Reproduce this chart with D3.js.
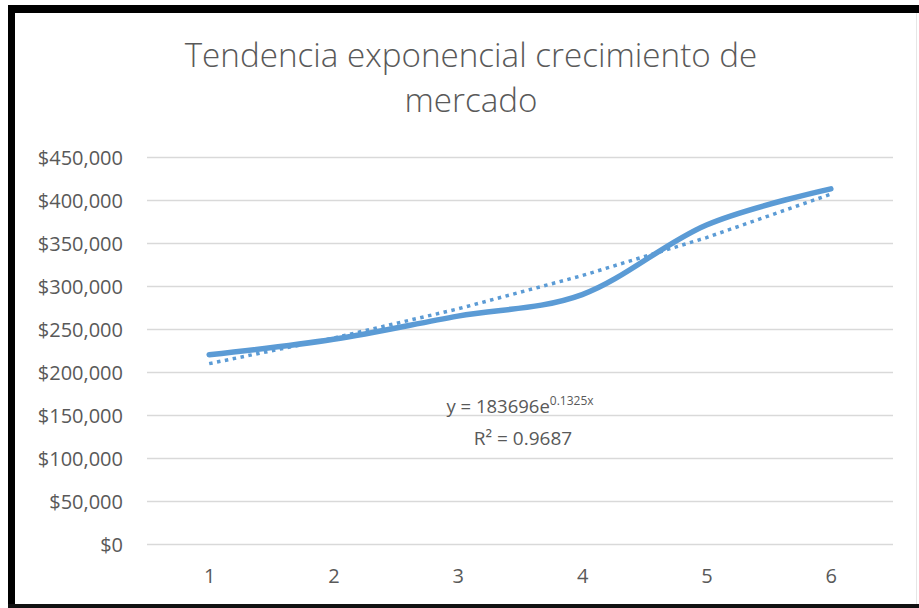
<!DOCTYPE html>
<html>
<head>
<meta charset="utf-8">
<script src="https://cdn.jsdelivr.net/npm/d3@7"></script>
<style>
  html, body { margin: 0; padding: 0; background: #fff; }
  svg { display: block; }
  text { font-family: "Open Sans", "Noto Sans", sans-serif; fill: #595959; }
</style>
</head>
<body>
<svg id="chart" width="919" height="608"></svg>
<script>
// ---- data ----
const categories = [1, 2, 3, 4, 5, 6];
const values = [220000, 238000, 265000, 290000, 371000, 413000];
const yTicks = [0, 50000, 100000, 150000, 200000, 250000, 300000, 350000, 400000, 450000];
const titleLines = ["Tendencia exponencial crecimiento de", "mercado"];
const trendA = 183696;
const trendB = 0.1325;
const trendR2 = "0.9687";

// ---- layout ----
const svg = d3.select("#chart");
const W = 919, H = 608;
const plot = { left: 147, right: 893, top: 157, bottom: 544 };

// frame
svg.append("rect").attr("x", 0).attr("y", 0).attr("width", W).attr("height", H).attr("fill", "#fff");
svg.append("rect").attr("x", 8).attr("y", 5).attr("width", 911).attr("height", 8).attr("fill", "#000");
svg.append("rect").attr("x", 8).attr("y", 5).attr("width", 7).attr("height", 603).attr("fill", "#000");
svg.append("rect").attr("x", 8).attr("y", 604).attr("width", 911).attr("height", 4).attr("fill", "#111");
svg.append("line").attr("x1", 916.5).attr("x2", 916.5).attr("y1", 13).attr("y2", 604)
  .attr("stroke", "#e6e6e6").attr("stroke-width", 1);

const x = d3.scalePoint().domain(categories).range([plot.left, plot.right]).padding(0.5);
const y = d3.scaleLinear().domain([0, 450000]).range([plot.bottom, plot.top]);

// gridlines
svg.append("g").selectAll("line").data(yTicks).join("line")
  .attr("x1", plot.left).attr("x2", plot.right)
  .attr("y1", d => Math.round(y(d)) + 0.5).attr("y2", d => Math.round(y(d)) + 0.5)
  .attr("stroke", "#d9d9d9").attr("stroke-width", 1.5);

// y axis labels
const fmt = d => "$" + d3.format(",")(d);
const yAxis = d3.axisLeft(y).tickValues(yTicks).tickFormat(fmt).tickSize(0).tickPadding(0);
const yg = svg.append("g").attr("transform", `translate(123,0)`).call(yAxis);
yg.select(".domain").remove();
yg.selectAll("text").style("font-size", "20px").attr("fill", "#595959").attr("dy", "0.35em");

// x axis labels
const xAxis = d3.axisBottom(x).tickSize(0).tickPadding(0);
const xg = svg.append("g").attr("transform", `translate(0,576)`).call(xAxis);
xg.select(".domain").remove();
xg.selectAll("text").style("font-size", "20px").attr("fill", "#595959").attr("dy", "0.35em");

// trendline (from displayed fit equation)
const trendData = categories.map(c => ({ c, v: trendA * Math.exp(trendB * c) }));
svg.append("path").datum(trendData)
  .attr("d", d3.line().x(d => x(d.c)).y(d => y(d.v)))
  .attr("fill", "none").attr("stroke", "#5b9bd5").attr("stroke-width", 3.5)
  .attr("stroke-dasharray", "3.5,4.5");

// series (smoothed)
svg.append("path").datum(categories.map((c, i) => ({ c, v: values[i] })))
  .attr("d", d3.line().x(d => x(d.c)).y(d => y(d.v)).curve(d3.curveCardinal.tension(0)))
  .attr("fill", "none").attr("stroke", "#5b9bd5").attr("stroke-width", 5.5)
  .attr("stroke-linecap", "round").attr("stroke-linejoin", "round");

// title
const t1 = svg.append("text").attr("x", 471).attr("y", 67).attr("text-anchor", "middle")
  .style("font-size", "30px").style("font-weight", 300).text(titleLines[0]);
// fit width to reference
const target = 573;
const w1 = t1.node().getComputedTextLength();
const fs = 30 * target / w1;
t1.style("font-size", fs + "px");
svg.append("text").attr("x", 471).attr("y", 112).attr("text-anchor", "middle")
  .style("font-size", fs + "px").style("font-weight", 300).text(titleLines[1]);

// equation label
const eq = svg.append("text").attr("x", 520).attr("y", 413).attr("text-anchor", "middle")
  .style("font-size", "18.5px");
eq.append("tspan").text("y = " + trendA + "e");
eq.append("tspan").attr("dy", -8).style("font-size", "12px").text(trendB + "x");
svg.append("text").attr("x", 523).attr("y", 445).attr("text-anchor", "middle")
  .style("font-size", "19px").text("R² = " + trendR2);
</script>
</body>
</html>
